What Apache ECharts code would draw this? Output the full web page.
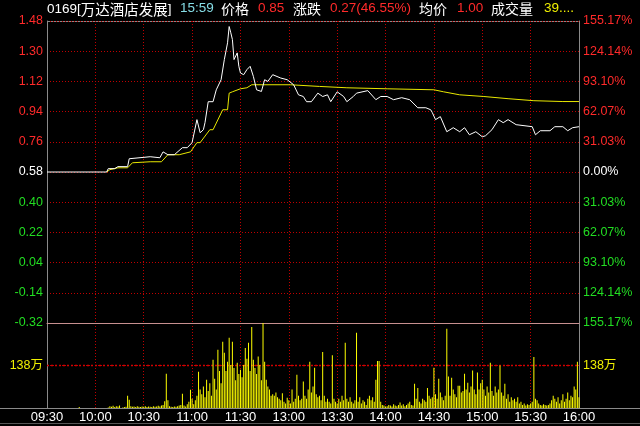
<!DOCTYPE html>
<html><head><meta charset="utf-8">
<script src="https://cdn.jsdelivr.net/npm/echarts@6/dist/echarts.min.js"></script>
<style>html,body{margin:0;padding:0;background:#000;}#c{width:640px;height:426px;}</style>
</head><body><div id="c"></div>
<script>
const prevClose = 0.58;
const volumeMidTick = 138;
const timeLabels = ['09:30','10:00','10:30','11:00','11:30','13:00','13:30','14:00','14:30','15:00','15:30','16:00'];
const priceMinutes = [0,37,38,42,44,50,51,64,70,72,75,79,84,87,90,93,95,97,98,100,103,105,108,110,112,113,114,115,116,118,119,120,122,124,126,128,130,133,135,137,140,145,149,153,156,159,161,164,168,171,174,176,180,184,186,190,192,199,204,207,211,215,220,225,230,235,238,239,241,244,248,252,256,259,262,266,270,272,276,280,283,286,291,301,303,306,312,315,320,323,326,330];
const priceValues = [0.58,0.58,0.60,0.60,0.612,0.612,0.659,0.671,0.665,0.70,0.683,0.683,0.725,0.725,0.755,0.892,0.814,0.832,0.874,0.999,0.999,1.07,1.13,1.25,1.35,1.447,1.41,1.37,1.25,1.29,1.21,1.17,1.16,1.19,1.21,1.15,1.07,1.06,1.13,1.12,1.16,1.14,1.13,1.10,1.04,1.03,0.999,0.999,1.05,1.03,1.04,0.999,1.058,1.03,0.999,1.03,1.05,1.065,1.011,1.03,1.03,1.011,1.023,1.011,0.963,0.963,0.951,0.934,0.892,0.91,0.82,0.844,0.82,0.844,0.802,0.82,0.79,0.796,0.832,0.892,0.874,0.892,0.862,0.85,0.802,0.826,0.826,0.85,0.85,0.826,0.844,0.85];
const avgMinutes = [37,39,44,50,53,64,71,75,82,89,93,95,101,103,109,112,113,115,120,124,127,151,169,186,211,240,246,256,271,286,302,320,330];
const avgValues = [0.58,0.594,0.605,0.605,0.635,0.641,0.641,0.683,0.683,0.70,0.755,0.755,0.832,0.832,0.951,0.951,1.05,1.058,1.076,1.082,1.10,1.10,1.09,1.082,1.076,1.07,1.058,1.04,1.03,1.017,1.005,1.0,1.0];
// volume per minute, unit: 万
const volumeValues = [
0,0,0,0,0,0,0,0,0,0,
0,0,0,0,0,0,0,0,0,0,
3,0,0,0,0,0,0,0,0,0,
0,0,0,0,0,0,0,0,2,6,
4,7,3,6,5,8,0,2,3,4,
40,27,6,4,5,3,6,4,3,5,
4,6,3,5,4,3,6,4,5,7,
5,8,10,22,111,25,6,4,3,5,
4,6,8,10,46,8,5,12,20,59,
30,12,25,40,118,60,45,70,35,92,
55,80,40,157,95,60,189,120,80,215,
179,120,150,228,140,215,130,90,147,110,
124,100,140,195,160,212,120,263,157,130,
110,167,140,90,276,150,92,70,60,40,
45,40,50,35,30,25,48,20,15,33,
25,15,60,20,30,108,40,25,30,86,
40,30,60,150,50,70,131,45,35,40,
25,182,40,20,30,20,15,171,30,20,
15,30,20,40,25,212,30,20,35,20,
15,25,244,20,35,15,25,20,10,30,
40,25,35,20,92,153,153,20,10,8,
5,6,10,8,5,12,8,6,10,18,
8,12,6,10,15,20,10,8,79,30,
65,20,15,30,25,20,65,40,30,35,
131,45,30,95,50,35,25,40,257,102,
40,98,60,45,35,72,72,50,55,111,
60,82,50,70,122,60,45,115,60,80,
92,60,40,70,50,147,55,40,70,50,
60,138,50,40,79,30,45,20,35,25,
30,20,35,15,20,10,15,8,12,10,
15,20,166,30,25,15,10,8,12,10,
8,10,15,25,40,30,20,35,15,25,
45,20,30,50,25,40,35,70,60,150,
35];

const FONT = "'Liberation Sans','Noto Sans CJK SC',sans-serif";
const CJK = "'Noto Sans CJK SC',sans-serif";
const RED = '#ff2a2a', GREEN = '#22dd22', YEL = '#f0f000', GRID = '#c00000', FRAME = '#8a8a8a';
const toCents = p => Math.round((p - prevClose) * 100000) / 1000;
const priceData = priceMinutes.map((m, i) => [m, toCents(priceValues[i])]);
const avgData = avgMinutes.map((m, i) => [m, toCents(avgValues[i])]);
const volData = volumeValues.map((v, i) => [i, v]);
const signColor = v => (Math.abs(v) < 1e-6 ? '#ffffff' : (v > 0 ? RED : GREEN));

const chart = echarts.init(document.getElementById('c'), null, {renderer: 'canvas'});
const splitDot = {show: true, lineStyle: {color: GRID, type: [1, 2], width: 1}};
const rich = {
  n: {fontFamily: FONT, fontSize: 13.5, fill: '#ffffff', color: '#ffffff'},
  z: {fontFamily: CJK, fontSize: 14.5, fill: '#ffffff', color: '#ffffff'}
};
const header = [
  ['{n|0169[}{z|万达酒店发展}{n|]}', 47, '#ffffff', true], ['15:59', 180, '#86dde6'], ['价格', 221, '#ffffff'],
  ['0.85', 258, RED], ['涨跌', 293, '#ffffff'], ['0.27(46.55%)', 330, RED],
  ['均价', 419, '#ffffff'], ['1.00', 457, RED], ['成交量', 491, '#ffffff'], ['39....', 544, YEL]
];
chart.setOption({
  backgroundColor: '#000',
  animation: false,
  grid: [
    {left: 47, top: 21, width: 532, height: 302},
    {left: 47, top: 323, width: 532, height: 85}
  ],
  xAxis: [
    {type: 'value', gridIndex: 0, min: 0, max: 330, interval: 30,
     axisLine: {show: true, onZero: false, lineStyle: {color: '#c89090'}}, axisTick: {show: false}, axisLabel: {show: false},
     splitLine: splitDot},
    {type: 'value', gridIndex: 1, min: 0, max: 330, interval: 30,
     axisLine: {show: true, onZero: false, lineStyle: {color: FRAME}}, axisTick: {show: false},
     axisLabel: {show: true, color: '#ffffff', fontFamily: FONT, fontSize: 13, margin: 3,
       showMinLabel: true, showMaxLabel: true,
       formatter: v => timeLabels[Math.round(v / 30)] || ''},
     splitLine: splitDot}
  ],
  yAxis: [
    {type: 'value', gridIndex: 0, min: -90, max: 90, interval: 18, position: 'left',
     axisLine: {show: true, onZero: false, lineStyle: {color: FRAME}}, axisTick: {show: false},
     axisLabel: {color: v => signColor(v), fontFamily: FONT, fontSize: 12.5, margin: 4,
       formatter: v => (prevClose + v / 100).toFixed(2)},
     splitLine: splitDot},
    {type: 'value', gridIndex: 0, min: -90, max: 90, interval: 18, position: 'right',
     axisLine: {show: true, onZero: false, lineStyle: {color: FRAME}}, axisTick: {show: false},
     axisLabel: {color: v => signColor(v), fontFamily: FONT, fontSize: 12.5, margin: 4,
       formatter: v => (Math.abs(v / 100) / prevClose * 100).toFixed(2) + '%'},
     splitLine: {show: false}},
    {type: 'value', gridIndex: 1, min: 0, max: 276, interval: 138, position: 'left',
     axisLine: {show: true, onZero: false, lineStyle: {color: FRAME}}, axisTick: {show: false},
     axisLabel: {color: YEL, fontFamily: FONT, fontSize: 12.5, margin: 4,
       formatter: v => (v === volumeMidTick ? volumeMidTick + '万' : '')},
     splitLine: {show: true, lineStyle: {color: GRID, type: [1, 2], width: 1}}},
    {type: 'value', gridIndex: 1, min: 0, max: 276, interval: 138, position: 'right',
     axisLine: {show: true, onZero: false, lineStyle: {color: FRAME}}, axisTick: {show: false},
     axisLabel: {color: YEL, fontFamily: FONT, fontSize: 12.5, margin: 4,
       formatter: v => (v === volumeMidTick ? volumeMidTick + '万' : '')},
     splitLine: {show: false}}
  ],
  series: [
    {type: 'line', xAxisIndex: 0, yAxisIndex: 0, data: avgData, showSymbol: false, z: 3,
     lineStyle: {color: '#e8e800', width: 1}},
    {type: 'line', xAxisIndex: 0, yAxisIndex: 0, data: priceData, showSymbol: false, z: 4,
     lineStyle: {color: '#ffffff', width: 1}},
    {type: 'bar', xAxisIndex: 1, yAxisIndex: 2, data: volData, barWidth: 1,
     itemStyle: {color: '#ffff00'}},
    {type: 'line', xAxisIndex: 1, yAxisIndex: 2, data: [[0, volumeMidTick], [330, volumeMidTick]],
     showSymbol: false, silent: true, z: 1,
     lineStyle: {color: '#d00000', type: [2, 2], width: 1.5}}
  ],
  graphic: [
    {type: 'line', shape: {x1: 47, y1: 21.5, x2: 580, y2: 21.5}, style: {stroke: FRAME, lineWidth: 1}, silent: true},
    {type: 'line', shape: {x1: 0, y1: 408.5, x2: 640, y2: 408.5}, style: {stroke: FRAME, lineWidth: 1}, silent: true},
    {type: 'line', shape: {x1: 0, y1: 423.5, x2: 640, y2: 423.5}, style: {stroke: '#555', lineWidth: 1}, silent: true}
  ].concat(header.map(h => ({
    type: 'text', left: h[1], top: 2, silent: true,
    style: h[3] ? {text: h[0], rich: rich, fill: h[2]}
      : {text: h[0], fill: h[2], font: (/[\u4e00-\u9fff]/.test(h[0]) ? '14px ' + CJK : '13.5px ' + FONT)}
  })))
});
</script></body></html>
